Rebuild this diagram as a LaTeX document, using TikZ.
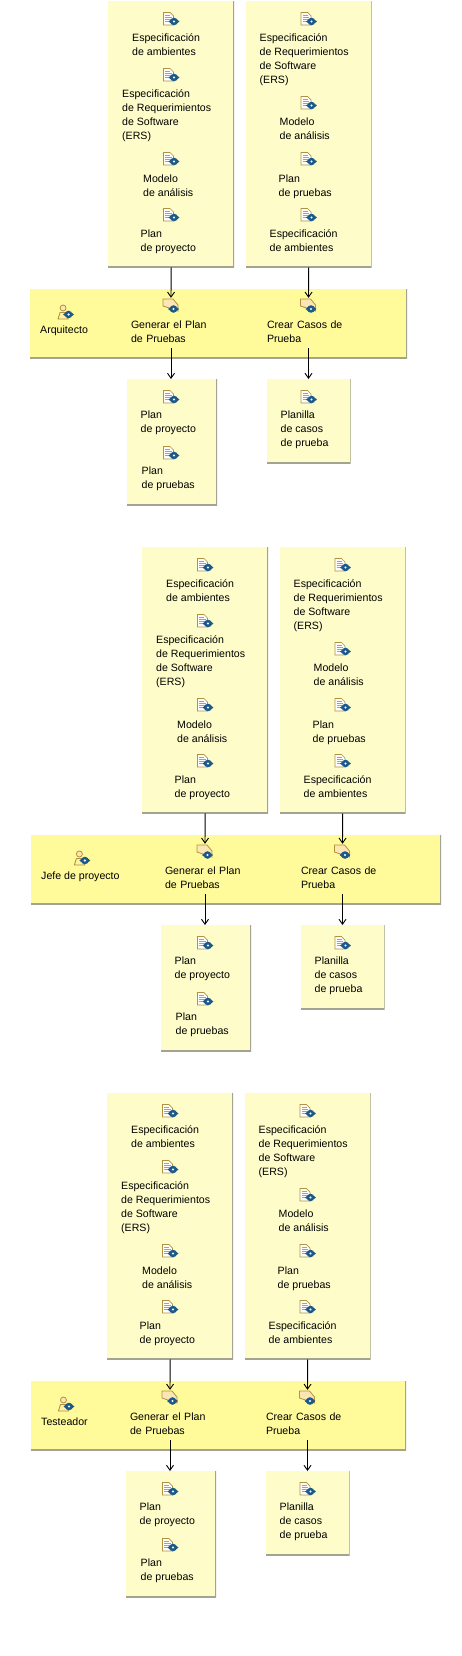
\documentclass[tikz,border=0pt]{standalone}
\usepackage{fontspec}
\setmainfont{Liberation Sans}
\usetikzlibrary{arrows.meta}
\definecolor{cajabg}{HTML}{fefdc9}
\definecolor{bandabg}{HTML}{fffb9b}
\definecolor{borde}{HTML}{a3a391}
\definecolor{papel}{HTML}{fbe6b4}
\definecolor{ocre}{HTML}{b3913f}
\definecolor{azulgiro}{HTML}{1d5a8a}
\definecolor{lineasdoc}{HTML}{8f9fd8}

\newcommand{\artefacto}[4]{
  \pic at (#2) {docicono};
  \node (#1) [texto, yshift=-1.3pt] at (#3) {#4};
}

\newcommand{\flujo}[6]{
\begin{scope}[shift={(#2,#3)}, name prefix=#1-]
\node (ent1) [caja, minimum width=126pt, minimum height=266pt] at (0,0) {};
\node (ent2) [caja, minimum width=126pt, minimum height=266pt] at (137.5,0) {};
\artefacto{e1}{63,18}{24,31}{Especificación\\de ambientes}
\artefacto{e2}{63,74}{14,87}{Especificación\\de Requerimientos\\de Software\\(ERS)}
\artefacto{e3}{63,158}{35,172}{Modelo\\de análisis}
\artefacto{e4}{63,214}{32.5,227}{Plan\\de proyecto}
\artefacto{f1}{200.5,18}{151.5,31}{Especificación\\de Requerimientos\\de Software\\(ERS)}
\artefacto{f2}{200.5,102}{171.5,115}{Modelo\\de análisis}
\artefacto{f3}{200.5,158}{170.5,172}{Plan\\de pruebas}
\artefacto{f4}{200.5,214}{161.5,227}{Especificación\\de ambientes}
\node (banda) [franja, minimum width=#5pt, minimum height=69pt] at (#4,288) {};
\node (rol) [texto] at (#4+10,322) {#6};
\pic at ([xshift=2pt,yshift=11pt]rol.north) {actoricono};
\node (i1) [marca] at (63,304) {};
\node (i2) [marca] at (200.5,304) {};
\pic at (i1) {tareaicono};
\pic at (i2) {tareaicono};
\node (t1) [tarea, text width=80pt] at (63,317) {Generar el Plan\\de Pruebas};
\node (t2) [tarea, text width=83pt] at (200.5,317) {Crear Casos de\\Prueba};
\node (sal1) [caja, minimum width=90pt, minimum height=126pt] at (19,378) {};
\node (sal2) [caja, minimum width=84pt, minimum height=84pt] at (158.5,378) {};
\artefacto{s1}{63,396}{32.5,408}{Plan\\de proyecto}
\artefacto{s2}{63,452}{33.5,464}{Plan\\de pruebas}
\artefacto{s3}{200.5,396}{172.5,408}{Planilla\\de casos\\de prueba}
\draw [flecha] (ent1.south) -- (i1.north);
\draw [flecha] (ent2.south) -- (i2.north);
\draw [flecha, shorten <=6pt] (t1.south) -- (t1.south |- sal1.north);
\draw [flecha, shorten <=6pt] (t2.south) -- (t2.south |- sal2.north);
\end{scope}
}

\begin{document}
\begin{tikzpicture}[x=1pt, y=-1pt,
every node/.style = {font=\fontsize{10.6}{14}\selectfont, inner sep=0pt},
caja/.style = {anchor=north west, fill=cajabg, path picture={
  \draw [borde, line width=2pt] (path picture bounding box.north east)
    -- (path picture bounding box.south east) -- (path picture bounding box.south west);}},
franja/.style = {caja, fill=bandabg},
texto/.style = {anchor=north west, align=left, execute at begin node=\strut},
tarea/.style = {anchor=north, align=left, execute at begin node=\strut},
marca/.style = {minimum width=16pt, minimum height=14pt},
flecha/.style = {line width=.9pt, -{Straight Barb[length=5pt,width=7pt]}},
giro/.pic = {
  \fill [azulgiro] (0,0) circle (3.8);
  \fill [white] (0,0) circle (1.2);
  \fill [azulgiro] (-5.4,0) -- (-3,-2) -- (-3,2) -- cycle;
  \fill [azulgiro] (5.4,0) -- (3,-2) -- (3,2) -- cycle;
},
docicono/.pic = {
  \filldraw [draw=ocre, fill=white, line width=.7pt] (-7.5,-6.5) -- (-1,-6.5) -- (2.5,-3) -- (2.5,6) -- (-7.5,6) -- cycle;
  \draw [lineasdoc, line width=.8pt] (-6,-3.5) -- (-1,-3.5) (-6,-1.5) -- (0.5,-1.5) (-6,.5) -- (0.5,.5) (-6,2.5) -- (-2,2.5);
  \pic at (3,2.5) {giro};
},
tareaicono/.pic = {
  \filldraw [draw=ocre, fill=papel, line width=.8pt] (-8,-6) -- (2,-6) -- (7,0) -- (7,6) -- (-8,1) -- cycle;
  \pic at (2.5,4) {giro};
},
actoricono/.pic = {
  \filldraw [draw=ocre, fill=papel, line width=.8pt] (-3,-4) circle (3);
  \filldraw [draw=ocre, fill=papel!40!bandabg, line width=.9pt] (-8,7) -- (-6,0.5) -- (0,0.5) -- (2,7) -- cycle;
  \pic at (2.5,2.5) {giro};
}
]
\useasboundingbox (0,0) rectangle (462,1656);
\flujo{a}{108}{1}{-78}{377}{Arquitecto}
\flujo{b}{142}{547}{-111}{410}{Jefe de proyecto}
\flujo{c}{107}{1093}{-76}{375}{Testeador}
\end{tikzpicture}
\end{document}
